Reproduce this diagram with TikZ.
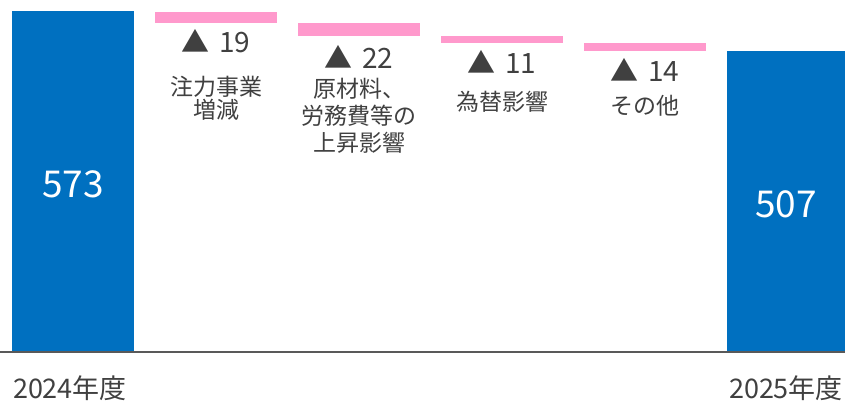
\documentclass[tikz,border=0pt]{standalone}
\usepackage{fontspec}
\setmainfont{Noto Sans CJK JP}
\definecolor{barblue}{HTML}{0070C0}
\definecolor{droppink}{HTML}{FF99CC}
\definecolor{txtgray}{HTML}{404040}
\definecolor{axisgray}{HTML}{595959}
\begin{document}
\begin{tikzpicture}[x=1pt, y=-1pt]
            \tikzstyle{total}=[fill=barblue, inner sep=0, anchor=south west, text=white, font=\fontsize{37}{37}\selectfont]
            \tikzstyle{drop}=[fill=droppink, inner sep=0, minimum width=122pt, anchor=north west]
            \tikzstyle{delta}=[text=txtgray, inner sep=0, font=\fontsize{28}{28}\selectfont]
            \tikzstyle{cat}=[text=txtgray, inner sep=0, align=center, font=\fontsize{23}{25}\selectfont]
            \tikzstyle{year}=[text=txtgray, inner sep=0, font=\fontsize{27}{27}\selectfont]

            \useasboundingbox (0,0) rectangle (845,401);

            % Balken
            \node[total, minimum width=122pt, minimum height=341pt, text height=33pt, text depth=0pt] (b2024) at (12,352) {573};
            \node[total, minimum width=118pt, minimum height=301pt, text height=33pt, text depth=0pt] (b2025) at (727,352) {507};
            \node[drop, minimum height=11pt] (d1) at (155,12) {};
            \node[drop, minimum height=13pt] (d2) at (298,23) {};
            \node[drop, minimum height=7pt] (d3) at (441,36) {};
            \node[drop, minimum height=8pt] (d4) at (584,43) {};

            % Achse
            \coordinate (ax0) at (0,352);
            \coordinate (ax1) at (845,352);
            \draw[axisgray, line width=1.2pt] (ax0) -- (ax1);

            % Werte
            \node[delta] (v1) at (216,41) {▲\hspace{0.35em}19};
            \node[delta] (v2) at (359,57) {▲\hspace{0.35em}22};
            \node[delta] (v3) at (502,62) {▲\hspace{0.35em}11};
            \node[delta] (v4) at (645,70) {▲\hspace{0.35em}14};

            % Beschriftungen
            \node[cat] (c1) at (216,98) {注力事業\\[-2pt]増減};
            \node[cat] (c2) at (359,116) {原材料、\\[2pt]労務費等の\\[2pt]上昇影響};
            \node[cat] (c3) at (502,102) {為替影響};
            \node[cat] (c4) at (645,106) {その他};
            \node[year] (y1) at (70,388) {2024年度};
            \node[year] (y2) at (786,388) {2025年度};
        \end{tikzpicture}
\end{document}
